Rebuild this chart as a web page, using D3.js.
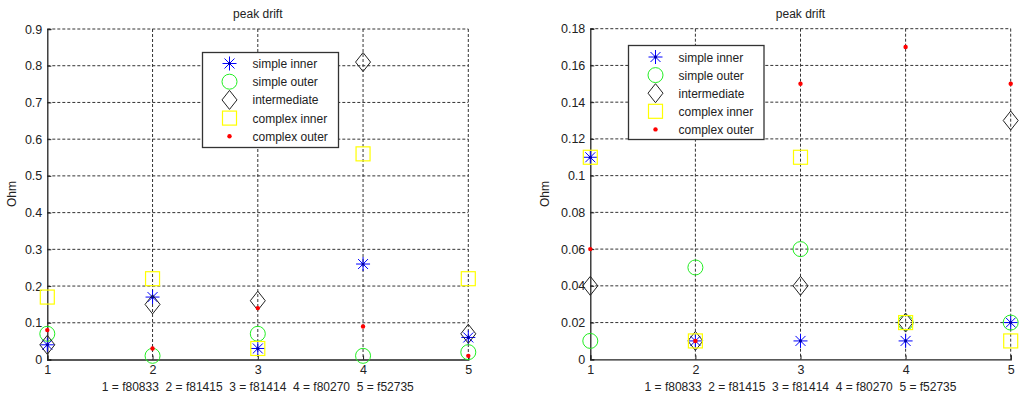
<!DOCTYPE html>
<html>
<head>
<meta charset="utf-8">
<script src="https://cdn.jsdelivr.net/npm/d3@7"></script>
<style>
  body { margin: 0; background: #fff; }
  svg text { font-family: "Liberation Sans", Arial, sans-serif; fill: #222; white-space: pre; }
</style>
</head>
<body>
<svg id="chart" width="1024" height="397"></svg>
<script>
// categories on the x axis
var categories = [1, 2, 3, 4, 5];
var seriesNames = ["simple inner", "simple outer", "intermediate", "complex inner", "complex outer"];
var xLabel = "1 = f80833  2 = f81415  3 = f81414  4 = f80270  5 = f52735";

// left plot values (Ohm)
var leftSimpleInner  = [0.04, 0.17, 0.03, 0.26, 0.06];
var leftSimpleOuter  = [0.07, 0.01, 0.07, 0.01, 0.02];
var leftIntermediate = [0.04, 0.15, 0.16, 0.81, 0.07];
var leftComplexInner = [0.17, 0.22, 0.03, 0.56, 0.22];
var leftComplexOuter = [0.08, 0.03, 0.14, 0.09, 0.01];
var leftTicks = [0, 0.1, 0.2, 0.3, 0.4, 0.5, 0.6, 0.7, 0.8, 0.9];

// right plot values (Ohm)
var rightSimpleInner  = [0.11, 0.01, 0.01, 0.01, 0.02];
var rightSimpleOuter  = [0.01, 0.05, 0.06, 0.02, 0.02];
var rightIntermediate = [0.04, 0.01, 0.04, 0.02, 0.13];
var rightComplexInner = [0.11, 0.01, 0.11, 0.02, 0.01];
var rightComplexOuter = [0.06, 0.01, 0.15, 0.17, 0.15];
var rightTicks = [0, 0.02, 0.04, 0.06, 0.08, 0.1, 0.12, 0.14, 0.16, 0.18];

var svg = d3.select("#chart");

var markerKinds = ["star", "circle", "diamond", "square", "dot"];
var markerColors = ["#0000ff", "#22ee22", "#222222", "#ffff00", "#ff0000"];

function drawMarker(g, kind, color) {
  if (kind == "star") {
    var r = 7, d = 5;
    g.append("path")
      .attr("d", "M" + (-r) + ",0H" + r + "M0," + (-r) + "V" + r +
        "M" + (-d) + "," + (-d) + "L" + d + "," + d + "M" + (-d) + "," + d + "L" + d + "," + (-d))
      .attr("stroke", color).attr("stroke-width", 1).attr("fill", "none");
    g.append("circle").attr("r", 1.6).attr("fill", "#0000aa");
  } else if (kind == "circle") {
    g.append("circle").attr("r", 7.5).attr("fill", "none").attr("stroke", color).attr("stroke-width", 1);
  } else if (kind == "diamond") {
    g.append("path").attr("d", "M0,-9.5L7.5,0L0,9.5L-7.5,0Z")
      .attr("fill", "none").attr("stroke", color).attr("stroke-width", 1);
  } else if (kind == "square") {
    g.append("rect").attr("x", -7).attr("y", -7).attr("width", 14).attr("height", 14)
      .attr("fill", "none").attr("stroke", color).attr("stroke-width", 1.2);
  } else {
    g.append("circle").attr("r", 2.2).attr("fill", color);
  }
}

function fmt(v) { return String(+v.toFixed(2)); }

function drawPlot(opt) {
  var x = d3.scaleLinear().domain([1, 5]).range([opt.left, opt.right]);
  var y = d3.scaleLinear().domain([0, opt.ticks[opt.ticks.length - 1]]).range([opt.bottom, opt.top]);
  var g = svg.append("g");

  // grid
  g.selectAll(".gy").data(opt.ticks.slice(1)).enter().append("line")
    .attr("x1", opt.left).attr("x2", opt.right)
    .attr("y1", d => y(d)).attr("y2", d => y(d))
    .attr("stroke", "#333").attr("stroke-dasharray", "3,2").attr("stroke-width", 1);
  g.selectAll(".gx").data(categories.slice(1)).enter().append("line")
    .attr("x1", d => x(d)).attr("x2", d => x(d))
    .attr("y1", opt.top).attr("y2", opt.bottom)
    .attr("stroke", "#333").attr("stroke-dasharray", "3,2").attr("stroke-width", 1);

  // axes
  var ya = g.append("g").attr("transform", "translate(" + opt.left + ",0)")
    .call(d3.axisLeft(y).tickValues(opt.ticks).tickFormat(fmt).tickSize(-4).tickPadding(5));
  var xa = g.append("g").attr("transform", "translate(0," + opt.bottom + ")")
    .call(d3.axisBottom(x).tickValues(categories).tickFormat(d3.format("d")).tickSize(-4).tickPadding(6));
  [ya, xa].forEach(function(a) {
    a.select(".domain").attr("stroke", "#222").attr("stroke-width", 1.3);
    a.selectAll(".tick line").attr("stroke", "#222");
    a.selectAll("text").attr("font-size", 12.5).attr("fill", "#222")
      .style("font-family", "'Liberation Sans', Arial, sans-serif");
  });

  // title, labels
  var cx = (opt.left + opt.right) / 2;
  g.append("text").attr("x", cx).attr("y", 18).attr("text-anchor", "middle")
    .attr("font-size", 12).text("peak drift");
  g.append("text").attr("x", cx).attr("y", 391).attr("text-anchor", "middle")
    .attr("font-size", 12).text(xLabel);
  g.append("text").attr("transform", "translate(" + opt.yLabelX + ",194) rotate(-90)")
    .attr("text-anchor", "middle").attr("font-size", 12).text("Ohm");

  // markers
  opt.series.forEach(function(vals, si) {
    g.selectAll(".m" + si).data(vals).enter().append("g")
      .attr("transform", (d, i) => "translate(" + x(categories[i]) + "," + y(d) + ")")
      .each(function() { drawMarker(d3.select(this), markerKinds[si], markerColors[si]); });
  });

  // legend
  var L = opt.legend;
  var lg = g.append("g").attr("transform", "translate(" + L.x + "," + L.y + ")");
  lg.append("rect").attr("width", L.w).attr("height", L.h)
    .attr("fill", "#fff").attr("stroke", "#333").attr("stroke-width", 1.3);
  seriesNames.forEach(function(name, si) {
    var ry = L.row0 + si * L.rowStep;
    var mg = lg.append("g").attr("transform", "translate(" + L.mx + "," + ry + ")");
    drawMarker(mg, markerKinds[si], markerColors[si]);
    lg.append("text").attr("x", L.tx).attr("y", ry + 4.5).attr("font-size", 12).text(name);
  });
}

drawPlot({
  left: 47.3, right: 468.3, top: 29, bottom: 359.5, yLabelX: 16,
  ticks: leftTicks,
  series: [leftSimpleInner, leftSimpleOuter, leftIntermediate, leftComplexInner, leftComplexOuter],
  legend: { x: 202.5, y: 52.5, w: 136, h: 95, mx: 27, tx: 50, row0: 11, rowStep: 18.2 }
});

drawPlot({
  left: 590.3, right: 1010.7, top: 28.7, bottom: 359.3, yLabelX: 549,
  ticks: rightTicks,
  series: [rightSimpleInner, rightSimpleOuter, rightIntermediate, rightComplexInner, rightComplexOuter],
  legend: { x: 628.5, y: 45.5, w: 135.5, h: 94, mx: 27, tx: 50, row0: 11.5, rowStep: 18.1 }
});
</script>
</body>
</html>
